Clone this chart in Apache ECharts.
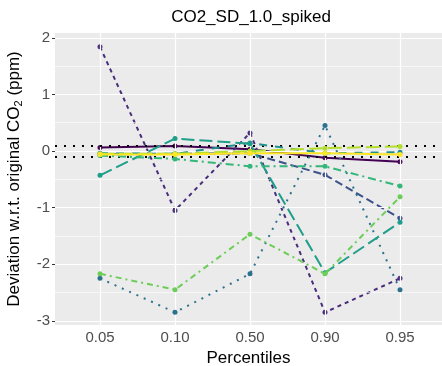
<!DOCTYPE html>
<html>
<head>
<meta charset="utf-8">
<script src="https://cdn.jsdelivr.net/npm/echarts@6/dist/echarts.min.js"></script>
<style>
  html, body { margin: 0; background: #fff; }
  #chart { width: 442px; height: 366px; }
</style>
</head>
<body>
<div id="chart"></div>
<script>
const percentiles = ['0.05', '0.10', '0.50', '0.90', '0.95'];
const yTicks = [-3, -2, -1, 0, 1, 2];
const yMinorTicks = [-2.5, -1.5, -0.5, 0.5, 1.5];
const thresholds = [-0.1, 0.1];

// one array per run, values in ppm at each percentile
const run1 = [0.06, 0.09, 0.03, -0.12, -0.19];
const run2 = [1.84, -1.05, 0.32, -2.85, -2.25];
const run3 = [-0.06, -0.05, -0.04, -0.42, -1.19];
const run4 = [-2.25, -2.85, -2.17, 0.45, -2.45];
const run5 = [-0.04, -0.05, 0.14, -0.04, -0.02];
const run6 = [-0.43, 0.22, 0.13, -2.15, -1.26];
const run7 = [-0.08, -0.14, -0.27, -0.27, -0.62];
const run8 = [-2.17, -2.45, -1.47, -2.17, -0.81];
const run9 = [-0.05, -0.05, 0.0, 0.05, 0.08];
const run10 = [-0.06, -0.06, -0.04, -0.04, -0.06];

const runs = [run1, run2, run3, run4, run5, run6, run7, run8, run9, run10];
const runStyles = [
  { color: '#440154', dash: 'solid' },
  { color: '#472D7B', dash: [4, 4] },
  { color: '#3B528B', dash: [8, 4] },
  { color: '#2C728E', dash: [2, 6] },
  { color: '#21908C', dash: [8, 8] },
  { color: '#1F9E89', dash: [13, 5] },
  { color: '#35B779', dash: [8, 4, 2, 4] },
  { color: '#6DCD59', dash: [6, 4, 2, 4] },
  { color: '#B4DE2C', dash: [14, 5] },
  { color: '#FDE725', dash: 'solid' },
];

const font = 'Liberation Sans, Arial, sans-serif';
const gridLine = (width) => ({ color: '#ffffff', width, type: 'solid' });

const chart = echarts.init(document.getElementById('chart'));

const series = [
  {
    type: 'line',
    data: [],
    silent: true,
    z: 1,
    markLine: {
      symbol: 'none',
      silent: true,
      animation: false,
      label: { show: false },
      data: [
        ...yMinorTicks.map((v) => ({ yAxis: v, lineStyle: gridLine(0.6) })),
        ...yTicks.map((v) => ({ yAxis: v, lineStyle: gridLine(1.2) })),
        ...percentiles.map((p, i) => ({ xAxis: i + 1, lineStyle: gridLine(1.2) })),
      ],
    },
  },
];

runs.forEach((values, i) => {
  series.push({
    name: `run ${i + 1}`,
    type: 'line',
    z: 2 + i,
    data: values.map((v, j) => [j + 1, v]),
    symbol: 'circle',
    symbolSize: 5,
    showSymbol: true,
    itemStyle: { color: runStyles[i].color },
    lineStyle: { color: runStyles[i].color, width: 2, type: runStyles[i].dash },
    emphasis: { disabled: true },
  });
});

series.push({
  type: 'line',
  data: [],
  silent: true,
  z: 20,
  markLine: {
    symbol: 'none',
    silent: true,
    animation: false,
    label: { show: false },
    lineStyle: { color: '#000000', width: 2, type: [2, 7] },
    data: thresholds.map((v) => ({ yAxis: v })),
  },
});

chart.setOption({
  animation: false,
  title: {
    text: 'CO2_SD_1.0_spiked',
    left: 246,
    top: 4,
    textAlign: 'center',
    textStyle: { fontFamily: font, fontSize: 17, fontWeight: 'normal', color: '#000' },
  },
  grid: {
    left: 55,
    right: 0,
    top: 33,
    bottom: 41,
    outerBoundsMode: 'none',
    show: true,
    backgroundColor: '#EBEBEB',
    borderWidth: 0,
  },
  xAxis: {
    type: 'value',
    min: 0.4,
    max: 5.56,
    axisLine: { show: false },
    axisTick: { show: true, length: 3, customValues: [1, 2, 3, 4, 5], lineStyle: { color: '#333' } },
    axisLabel: {
      customValues: [1, 2, 3, 4, 5],
      formatter: (v) => percentiles[Math.round(v) - 1],
      color: '#4D4D4D',
      fontFamily: font,
      fontSize: 15,
      margin: 5,
    },
    splitLine: { show: false },
    name: 'Percentiles',
    nameLocation: 'middle',
    nameGap: 22,
    nameTextStyle: { fontFamily: font, fontSize: 17, color: '#000' },
  },
  yAxis: {
    type: 'value',
    min: -3.074,
    max: 2.085,
    axisLine: { show: false },
    axisTick: { show: true, length: 3, customValues: yTicks, lineStyle: { color: '#333' } },
    axisLabel: {
      customValues: yTicks,
      color: '#4D4D4D',
      fontFamily: font,
      fontSize: 15,
      margin: 5,
    },
    splitLine: { show: false },
    name: 'Deviation w.r.t. original CO{sub|2} (ppm)',
    nameLocation: 'middle',
    nameGap: 31,
    nameTextStyle: {
      fontFamily: font,
      fontSize: 17,
      color: '#000',
      rich: {
        sub: { fontFamily: font, fontSize: 11, color: '#000', verticalAlign: 'bottom', padding: [8, 0, 0, 0] },
      },
    },
  },
  series,
});
</script>
</body>
</html>
